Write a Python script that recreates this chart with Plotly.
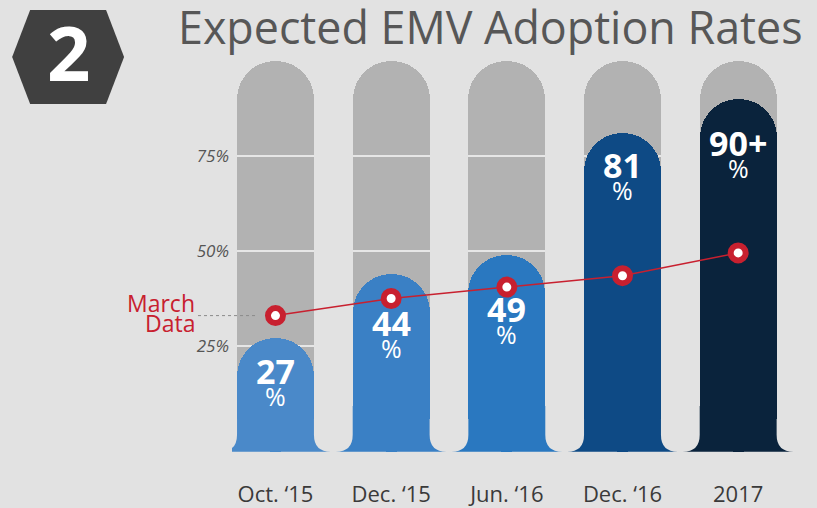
import plotly.graph_objects as go

# ---------------- data ----------------
categories = ["Oct. \u201815", "Dec. \u201815", "Jun. \u201816", "Dec. \u201816", "2017"]
adoption = [27, 44, 49, 81, 90]
adoption_text = ["27", "44", "49", "81", "90+"]
march_data = [33, 37.5, 40.5, 43.5, 49.5]
y_ticks = [25, 50, 75]
y_tick_labels = ["25%", "50%", "75%"]
column_max = 100

# ---------------- style ----------------
W, H = 817, 508
L, R, T, B = 232, 796.4, 50, 470
PX_PER_UNIT = 3.8
ZERO_PX = 441
BASE = -2.8
BAR_W = 0.665
bar_colors = ["#4a89c9", "#3a80c5", "#2a78c0", "#0e4a85", "#0a233c"]
label_shift = [-33, -49, -54, -32, -44]   # vertical placement of value labels (px)
grey_col = "#b2b2b2"
bg = "#e2e2e2"
red = "#c8202f"

x_pos = list(range(len(categories)))
x_range = [-0.376, 4.5]
y_range = [(ZERO_PX - B) / PX_PER_UNIT, (ZERO_PX - T) / PX_PER_UNIT]


def px_x(px):
    return (px - L) / (R - L)


def px_y(py):
    return (B - py) / (B - T)


fig = go.Figure()

# grey background columns
fig.add_trace(go.Bar(
    x=x_pos, y=[column_max - BASE] * len(x_pos), base=BASE, width=BAR_W,
    marker=dict(color=grey_col, cornerradius="50%", line=dict(width=0)),
    hoverinfo="skip", showlegend=False))

# gridlines drawn only across the grey columns
for t in y_ticks:
    fig.add_trace(go.Bar(
        x=x_pos, y=[0.5] * len(x_pos), base=t - 0.25, width=BAR_W,
        marker=dict(color="#e6e6e6", line=dict(width=0)),
        hoverinfo="skip", showlegend=False))

# adoption bars
fig.add_trace(go.Bar(
    x=x_pos, y=[v - BASE for v in adoption], base=BASE, width=BAR_W,
    marker=dict(color=bar_colors, cornerradius="50%", line=dict(width=0)),
    hoverinfo="skip", showlegend=False))

# March data line
fig.add_trace(go.Scatter(
    x=x_pos, y=march_data, mode="lines+markers",
    line=dict(color=red, width=1.5),
    marker=dict(size=15, color="white", line=dict(color=red, width=6)),
    hoverinfo="skip", showlegend=False))

shapes = []
# squared-off, flared feet of the bars
rx = 17 / 115.75
ry = 17 / PX_PER_UNIT
foot_h = 12
for i, c in zip(x_pos, bar_colors):
    xl = i - BAR_W / 2
    xr = i + BAR_W / 2
    path = (f"M {xl - rx},{BASE} L {xr + rx},{BASE} Q {xr},{BASE} {xr},{BASE + ry} "
            f"L {xr},{BASE + foot_h} L {xl},{BASE + foot_h} L {xl},{BASE + ry} "
            f"Q {xl},{BASE} {xl - rx},{BASE} Z")
    shapes.append(dict(type="path", xref="x", yref="y", layer="above",
                       path=path, fillcolor=c, line=dict(width=0)))

# dotted leader for "March Data"
shapes.append(dict(type="line", xref="paper", yref="y",
                   x0=px_x(198), x1=px_x(258), y0=march_data[0], y1=march_data[0],
                   line=dict(color="#8a8a8a", width=1, dash="dot")))

# hexagon badge
hexv = [(30, 10), (106, 10), (124, 57), (106, 104), (30, 104), (12, 57)]
hpath = "M " + " L ".join(f"{px_x(a)},{px_y(b)}" for a, b in hexv) + " Z"
shapes.append(dict(type="path", xref="paper", yref="paper", path=hpath,
                   fillcolor="#404040", line=dict(width=0)))

annotations = []
for i, v, t, s in zip(x_pos, adoption, adoption_text, label_shift):
    annotations.append(dict(x=i, y=v, xref="x", yref="y", text=f"<b>{t}</b>",
                            showarrow=False, yanchor="middle", yshift=s,
                            font=dict(family="Open Sans", size=34, color="white")))
    annotations.append(dict(x=i, y=v, xref="x", yref="y", text="%",
                            showarrow=False, yanchor="middle", yshift=s - 25,
                            font=dict(family="Open Sans", size=25, color="white")))

for word, dy in (("March", 13), ("Data", -7)):
    annotations.append(dict(x=px_x(197), y=march_data[0], xref="paper", yref="y",
                            text=word, showarrow=False, xanchor="right",
                            yanchor="middle", yshift=dy,
                            font=dict(family="Open Sans", size=23, color=red)))

annotations.append(dict(x=px_x(68), y=px_y(52), xref="paper", yref="paper",
                        text="<b>2</b>", showarrow=False, xanchor="center", yanchor="middle",
                        font=dict(family="Open Sans", size=76, color="white")))

annotations.append(dict(x=px_x(176), y=px_y(27), xref="paper", yref="paper",
                        text="Expected EMV Adoption Rates", showarrow=False,
                        xanchor="left", yanchor="middle",
                        font=dict(family="Open Sans", size=44.8, color="#575757")))

fig.update_layout(
    width=W, height=H,
    margin=dict(l=L, r=W - R, t=T, b=H - B),
    paper_bgcolor=bg, plot_bgcolor=bg,
    barmode="overlay", bargap=0,
    xaxis=dict(range=x_range, tickvals=x_pos, ticktext=categories, automargin=False,
               showgrid=False, zeroline=False, showline=False, ticks="",
               tickfont=dict(family="Open Sans", size=22, color="#3a3a3a"),
               ticklabelstandoff=9),
    yaxis=dict(range=y_range, tickvals=y_ticks, ticktext=y_tick_labels, automargin=False,
               showgrid=False, zeroline=False, showline=False, ticks="",
               tickfont=dict(family="Open Sans", size=17, color="#555555", style="italic"),
               ticklabelstandoff=2),
    shapes=shapes, annotations=annotations,
)

fig.write_html("out.html", config={"displayModeBar": False},
               post_script="document.body.style.margin='0';")
